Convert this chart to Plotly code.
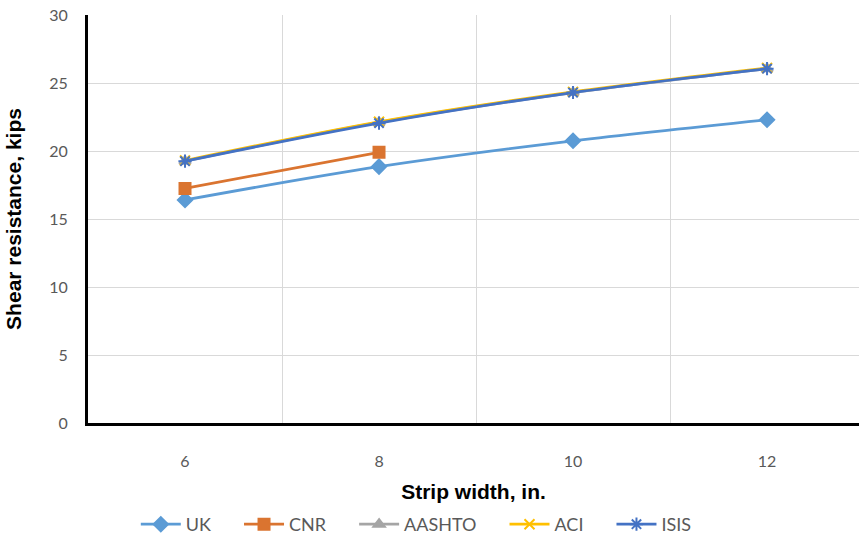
import plotly.graph_objects as go

# Strip widths (in.) and shear resistance (kips) per design guideline
strip_width = [6, 8, 10, 12]
uk = [16.4, 18.85, 20.75, 22.3]
cnr_width = [6, 8]
cnr = [17.25, 19.9]
aashto = [19.25, 22.1, 24.3, 26.05]
aci = [19.3, 22.15, 24.35, 26.1]
isis = [19.25, 22.05, 24.3, 26.05]

y_ticks = [0, 5, 10, 15, 20, 25, 30]
x_ticks = [6, 8, 10, 12]
x_grid = [7, 9, 11]

series = [
    ("UK", strip_width, uk, "#5B9BD5", "diamond", 11),
    ("CNR", cnr_width, cnr, "#DA7430", "square", 11),
    ("AASHTO", strip_width, aashto, "#A5A5A5", "triangle-up", 10),
    ("ACI", strip_width, aci, "#FFC000", "x-thin-open", 10),
    ("ISIS", strip_width, isis, "#4472C4", "asterisk-open", 11),
]

# extra non-breaking spaces widen the gap between legend entries
pad = "\u00a0" * 5

fig = go.Figure()
for name, xs, ys, color, symbol, size in series:
    fig.add_trace(go.Scatter(
        x=xs, y=ys, name=name + pad, mode="lines+markers",
        line=dict(color=color, width=2.75, shape="spline"),
        marker=dict(symbol=symbol, size=size, color=color,
                    line=dict(color=color, width=2)),
    ))

tick_font = dict(family="Lato, Open Sans, sans-serif", size=16, color="#595959")
title_font = dict(family="Liberation Sans, Arial, sans-serif", size=21,
                  color="#000000", weight="bold")

fig.update_layout(
    width=859, height=543,
    margin=dict(l=88, r=0, t=15, b=116),
    paper_bgcolor="white", plot_bgcolor="white",
    showlegend=True,
    legend=dict(orientation="h", x=0.062, xanchor="left", y=-0.25,
                yanchor="middle", font=dict(family="Lato, sans-serif", size=18,
                                            color="#595959"),
                itemwidth=40, traceorder="normal"),
    xaxis=dict(
        range=[5, 12.948], tickvals=x_ticks, ticktext=[str(v) for v in x_ticks],
        showgrid=False, zeroline=False,
        showline=True, linecolor="#000000", linewidth=3,
        ticks="", ticklabelstandoff=22, tickfont=tick_font,
        minor=dict(tickvals=x_grid, showgrid=True, gridcolor="#D9D9D9",
                   gridwidth=1, ticks=""),
        title=dict(text="Strip width, in.", font=title_font, standoff=16),
    ),
    yaxis=dict(
        range=[0, 30], tickvals=y_ticks,
        showgrid=True, gridcolor="#D9D9D9", gridwidth=1, zeroline=False,
        showline=True, linecolor="#000000", linewidth=3,
        ticks="", ticklabelstandoff=14, tickfont=tick_font,
        title=dict(text="Shear resistance, kips", font=title_font, standoff=22),
    ),
)

fig.write_html("out.html")
